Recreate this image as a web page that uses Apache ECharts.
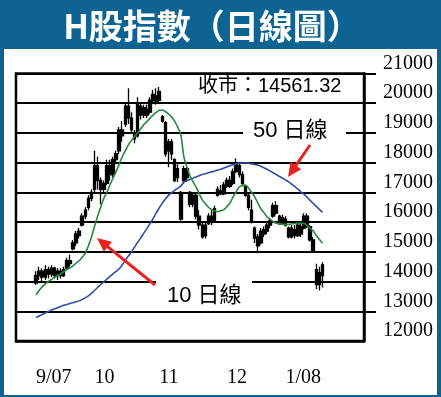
<!DOCTYPE html>
<html>
<head>
<meta charset="utf-8">
<title>H股指數</title>
<script src="https://cdn.jsdelivr.net/npm/echarts@6/dist/echarts.min.js"></script>
<style>
  html, body { margin: 0; padding: 0; background: #fff; }
  #main { width: 441px; height: 397px; }
</style>
</head>
<body>
<div id="main"></div>
<script>
// trading days shown (Sep 2007 - Jan 2008)
var sepDays = [3,4,5,6,7,10,11,12,13,14,17,18,19,20,21,24,25,27,28];
var octDays = [2,3,4,5,8,9,10,11,12,15,16,17,18,22,23,24,25,26,29,30,31];
var novDays = [1,2,5,6,7,8,9,12,13,14,15,16,19,20,21,22,23,26,27,28,29,30];
var decDays = [3,4,5,6,7,10,11,12,13,14,17,18,19,20,21,24,27,28,31];
var janDays = [2,3,4,7,8,9,10,11,14,15,16,17,18];
var monthLabels = ['9/07', '10', '11', '12', '1/08'];

var opens = [13950,14200,14350,14150,14400,14250,14450,14200,14350,14200,
  14450,14700,15100,15300,15550,15900,16200,16500,16800,17100,
  17900,17400,17100,17300,17900,17600,18100,18400,19100,19300,
  19900,19500,19000,18900,19900,19600,19800,19700,20100,20250,
  20100,19550,19350,18400,18700,18100,17500,17000,17400,17800,
  17000,16600,16900,16200,15900,15550,15950,16200,16050,16900,
  17050,16950,17200,17400,17300,17700,17900,17600,17200,16900,
  16400,15800,15500,15300,15600,15700,15900,16200,16550,16200,
  15950,16100,15800,15500,15750,15550,15850,15800,16200,15850,
  15400,14400,13900,14200];
var closes = [14200,14350,14150,14400,14250,14450,14200,14350,14200,14400,
  14700,14600,15300,15600,15700,16200,16400,16800,17000,17900,
  17400,17100,17300,17900,17600,18100,18300,19100,18900,19900,
  19500,19100,18800,20000,19600,19850,19600,20100,20300,20050,
  20400,19400,18300,18700,18300,17400,17800,16100,17800,17500,
  16600,16900,16200,15900,15500,15900,16200,16000,16450,17100,
  16950,17250,17400,17200,17700,18000,17600,17300,16900,16500,
  16000,15450,15200,15700,15750,15900,16050,16550,16300,15950,
  16150,15900,15500,15800,15550,15900,15600,16200,15850,15400,
  15050,13900,14300,14561.32];
var lows = [13880,14050,14000,14050,14100,14150,14100,14050,14100,14150,
  14400,14500,15050,15200,15450,15850,16100,16400,16700,17000,
  17100,16600,16950,17250,17400,17500,18000,18300,18700,19200,
  19300,19000,18650,18850,19450,19500,19500,19650,20000,19950,
  20000,19350,18200,17850,18100,17350,17350,16050,17300,17350,
  16500,16500,16100,15750,15450,15450,15900,15900,16000,16850,
  16900,16900,17150,17150,17250,17650,17500,17200,16850,16400,
  15950,15300,14950,15250,15500,15600,15800,16150,16250,15900,
  15900,15850,15450,15450,15450,15500,15500,15750,15800,15350,
  15000,13750,13700,13800];
var highs = [14350,14500,14450,14550,14500,14550,14500,14450,14450,14500,
  14800,14900,15400,15700,15800,16300,16500,16900,17100,18400,
  18200,17500,17400,18100,18100,18200,18400,19200,19400,20000,
  20500,19700,19100,20200,20000,19950,19950,20200,20450,20500,
  20550,19600,19400,18800,18800,18150,17950,17050,17900,17850,
  17050,17000,16950,16400,16000,16000,16300,16450,16550,17200,
  17250,17350,17500,17550,17800,18150,18000,17700,17250,17000,
  16750,15850,15600,15800,15850,16000,16150,16650,16700,16250,
  16250,16200,15850,15900,15900,15950,15950,16300,16300,15900,
  15500,14600,14500,14650];
var ma10 = [13550,13700,13820,13920,14000,14070,14140,14200,14260,14330,
  14400,14460,14530,14620,14700,14820,14950,15200,15500,15850,
  16200,16500,16800,17000,17250,17480,17700,17950,18200,18400,
  18600,18750,18880,19000,19140,19280,19380,19500,19600,19690,
  19760,19770,19720,19640,19540,19400,19200,18950,18200,17850,
  17560,17350,17180,16950,16750,16620,16500,16420,16380,16350,
  16380,16420,16520,16650,16850,17020,17180,17240,17250,17150,
  17000,16850,16650,16450,16320,16180,16100,16020,15960,15940,
  15930,15930,15930,15940,15950,15960,15960,15950,15900,15800,
  15700,15550,15420,15290];
var ma50 = [12790,12840,12890,12940,12990,13040,13080,13120,13160,13200,
  13230,13260,13290,13320,13350,13400,13450,13520,13600,13700,
  13800,13900,13990,14080,14170,14260,14340,14430,14560,14720,
  14860,15000,15160,15320,15470,15630,15780,15950,16120,16300,
  16480,16640,16780,16900,16990,17070,17140,17210,17340,17400,
  17440,17480,17520,17560,17600,17630,17660,17690,17720,17750,
  17780,17820,17860,17900,17930,17960,17980,17990,17990,17980,
  17960,17940,17920,17880,17830,17780,17720,17660,17600,17540,
  17480,17420,17360,17280,17200,17110,17020,16940,16840,16730,
  16630,16530,16430,16330];
var yTicks = [13000,14000,15000,16000,17000,18000,19000,20000,21000];

var BLUE = '#0d6391';
var RED = '#e8231f';
var PAD_FRONT = 6, PAD_BACK = 13;

// categories with empty slots at both ends
var categories = [];
var labelAt = {};
var i;
for (i = 0; i < PAD_FRONT; i++) categories.push('pa' + i);
[['2007-09', sepDays], ['2007-10', octDays], ['2007-11', novDays], ['2007-12', decDays], ['2008-01', janDays]]
  .forEach(function (m, mi) {
    m[1].forEach(function (d, di) {
      if (di === 0) labelAt[categories.length] = monthLabels[mi];
      categories.push(m[0] + '-' + (d < 10 ? '0' : '') + d);
    });
  });
for (i = 0; i < PAD_BACK; i++) categories.push('pb' + i);

function padded(arr) {
  var out = [];
  for (var k = 0; k < PAD_FRONT; k++) out.push('-');
  return out.concat(arr);
}
var candles = padded(opens.map(function (o, k) {
  return [o, closes[k], lows[k], highs[k]];
}));

function arrow(x1, y1, x2, y2) {
  var dx = x2 - x1, dy = y2 - y1, L = Math.sqrt(dx * dx + dy * dy);
  var ux = dx / L, uy = dy / L, hl = 14, hw = 6.5;
  var bx = x2 - ux * hl, by = y2 - uy * hl;
  return [
    { type: 'line', z: 20, shape: { x1: x1, y1: y1, x2: bx + ux * 2, y2: by + uy * 2 },
      style: { stroke: RED, lineWidth: 3 } },
    { type: 'polygon', z: 20, shape: { points: [[x2, y2], [bx - uy * hw, by + ux * hw], [bx + uy * hw, by - ux * hw]] },
      style: { fill: RED } }
  ];
}

var sansFont = '"Liberation Sans", "Noto Sans CJK TC", sans-serif';
var serifFont = '"Liberation Serif", "DejaVu Serif", serif';

var chart = echarts.init(document.getElementById('main'));
chart.setOption({
  animation: false,
  backgroundColor: '#fff',
  grid: { left: 16, right: 77, top: 73.5, bottom: 56, show: true, borderColor: '#000', borderWidth: 2.5 },
  xAxis: {
    type: 'category',
    data: categories,
    boundaryGap: true,
    axisLine: { lineStyle: { color: '#000', width: 2.5 } },
    axisTick: {
      alignWithLabel: true,
      interval: function (idx) { return labelAt[idx] !== undefined; },
      length: 11,
      lineStyle: { color: '#000', width: 2.5 }
    },
    axisLabel: {
      interval: function (idx) { return labelAt[idx] !== undefined; },
      formatter: function (v, idx) { return labelAt[idx] || ''; },
      align: 'left',
      margin: 27,
      color: '#000',
      fontFamily: serifFont,
      fontSize: 20
    },
    splitLine: { show: false }
  },
  yAxis: {
    type: 'value',
    position: 'right',
    min: 12000,
    max: 21000,
    interval: 1000,
    axisLine: { show: true, lineStyle: { color: '#000', width: 2.5 } },
    axisTick: { show: true, length: 12, customValues: yTicks, lineStyle: { color: '#000', width: 2 } },
    axisLabel: {
      color: '#000', fontFamily: serifFont, fontSize: 20, margin: 19, verticalAlign: 'bottom',
      formatter: function (v) { return String(v); }
    },
    splitLine: { show: true, lineStyle: { color: '#000', width: 2 } }
  },
  series: [
    {
      type: 'candlestick',
      data: candles,
      barWidth: 3,
      itemStyle: { color: '#000', color0: '#000', borderColor: '#000', borderColor0: '#000', borderWidth: 1.3 },
      z: 3
    },
    {
      type: 'line', data: padded(ma50), showSymbol: false, symbol: 'none', smooth: 0.3,
      lineStyle: { color: '#2c4ea8', width: 1.6 }, z: 4
    },
    {
      type: 'line', data: padded(ma10), showSymbol: false, symbol: 'none', smooth: 0.3,
      lineStyle: { color: '#26893c', width: 1.6 }, z: 5
    }
  ],
  graphic: [
    { type: 'rect', z: 30, shape: { x: 0, y: 0, width: 441, height: 49 }, style: { fill: BLUE } },
    { type: 'rect', z: 30, shape: { x: 0, y: 0, width: 4, height: 397 }, style: { fill: BLUE } },
    { type: 'rect', z: 30, shape: { x: 437, y: 0, width: 4, height: 397 }, style: { fill: BLUE } },
    { type: 'rect', z: 30, shape: { x: 0, y: 395, width: 441, height: 2 }, style: { fill: BLUE } },
    { type: 'text', z: 31, style: { text: 'H股指數（日線圖）', x: 212, y: 26, align: 'center', verticalAlign: 'middle',
      fill: '#fff', font: 'bold 34px "Noto Sans CJK TC", sans-serif' } },
    { type: 'text', z: 20, style: { text: '收市：14561.32', x: 198, y: 86, align: 'left', verticalAlign: 'middle',
      fill: '#000', font: '20px ' + sansFont } },
    { type: 'rect', z: 15, shape: { x: 243, y: 118, width: 103, height: 26 }, style: { fill: '#fff' } },
    { type: 'text', z: 20, style: { text: '50 日線', x: 253, y: 131, align: 'left', verticalAlign: 'middle',
      fill: '#000', font: '22px ' + sansFont } },
    { type: 'rect', z: 15, shape: { x: 156, y: 275, width: 96, height: 33 }, style: { fill: '#fff' } },
    { type: 'text', z: 20, style: { text: '10 日線', x: 167, y: 296, align: 'left', verticalAlign: 'middle',
      fill: '#000', font: '22px ' + sansFont } }
  ].concat(arrow(310, 145, 288, 177)).concat(arrow(155, 285, 97, 238))
});
</script>
</body>
</html>
